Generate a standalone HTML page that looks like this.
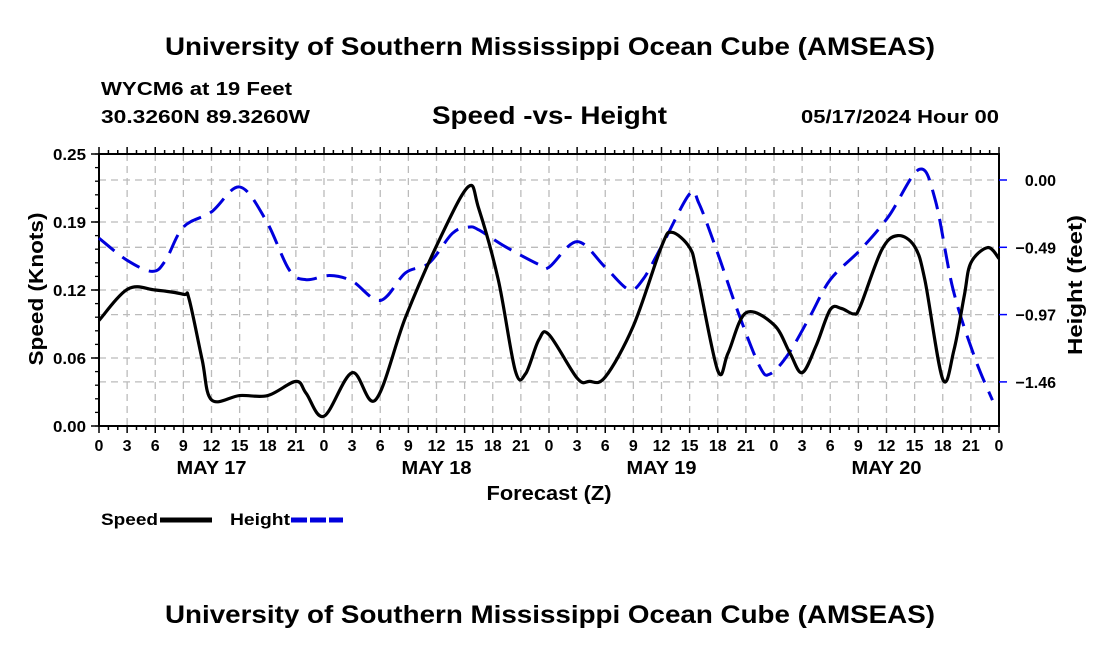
<!DOCTYPE html>
<html><head><meta charset="utf-8"><style>
body{margin:0;background:#fff;}
svg text{font-family:"Liberation Sans",sans-serif;font-weight:bold;fill:#000;}
</style></head><body>
<svg width="1100" height="650" xmlns="http://www.w3.org/2000/svg">
<g id="static"></g>
<g id="grid"></g>
<g id="series"></g>
</svg>
<script>
const speedHours=[0,3.1,6,9,9.6,11,12,15,18,21,22.1,24,27,29.5,32.7,36.3,39.4,40.5,42.6,44.4,45.5,46.9,48,51,52.3,54,57,60,61.1,63,63.8,66,67.1,69,72,73.7,75,76.5,78,79.2,80.5,81.2,83.5,85.2,87,88.1,90,91.2,92.3,93,94.8,96];
const speedVals=[0.097,0.126,0.125,0.121,0.117,0.061,0.024,0.028,0.028,0.041,0.03,0.009,0.049,0.024,0.10,0.171,0.22,0.20,0.134,0.051,0.048,0.079,0.084,0.044,0.041,0.045,0.092,0.165,0.178,0.164,0.14,0.051,0.067,0.104,0.093,0.067,0.049,0.074,0.107,0.108,0.103,0.11,0.162,0.175,0.165,0.134,0.043,0.07,0.12,0.15,0.164,0.154];
const heightHours=[0,3,5.7,7.1,9,12,15,17.8,20.3,22.1,24.6,27,30,32.7,35.2,37.7,39.4,40.5,43.3,46.9,48,51,54,56.5,58,60,63,64,66,68.2,70.5,71.6,73.5,75.8,78,81.2,84.2,87.5,89.2,91.1,93.4,95.3];
const heightVals=[-0.42,-0.58,-0.66,-0.58,-0.34,-0.23,-0.05,-0.29,-0.65,-0.72,-0.69,-0.73,-0.87,-0.67,-0.60,-0.385,-0.34,-0.36,-0.48,-0.61,-0.63,-0.445,-0.63,-0.79,-0.72,-0.48,-0.10,-0.17,-0.53,-0.96,-1.35,-1.40,-1.26,-0.99,-0.72,-0.505,-0.265,0.077,-0.144,-0.79,-1.28,-1.59];
const leftTicks=[0,0.0625,0.125,0.1875,0.25];
const leftLabels=["0.00","0.06","0.12","0.19","0.25"];
const rightTicks=[0,-0.486,-0.972,-1.458];
const rightLabels=["0.00","-0.49","-0.97","-1.46"];
const dayLabels=["MAY 17","MAY 18","MAY 19","MAY 20"];

const X0=99,X1=999,Y0=426,Y1=154;
const xs=h=>X0+(X1-X0)*h/96;
const ys=v=>Y0-(Y0-Y1)*v/0.25;
const yh=v=>180-v*67.3/0.486;
const NS="http://www.w3.org/2000/svg";
function mk(tag,attrs,parent,txt){const e=document.createElementNS(NS,tag);for(const k in attrs)e.setAttribute(k,attrs[k]);if(txt!==undefined)e.textContent=txt;parent.appendChild(e);return e;}
const st=document.getElementById('static'),gr=document.getElementById('grid'),se=document.getElementById('series');

let t;
t=mk('text',{x:165,y:55,'font-size':25,textLength:770,lengthAdjust:'spacingAndGlyphs'},st,'University of Southern Mississippi Ocean Cube (AMSEAS)');

t=mk('text',{x:101,y:95,'font-size':18,textLength:191,lengthAdjust:'spacingAndGlyphs'},st,'WYCM6 at 19 Feet');

t=mk('text',{x:101,y:123,'font-size':18,textLength:209,lengthAdjust:'spacingAndGlyphs'},st,'30.3260N  89.3260W');

t=mk('text',{x:432,y:124,'font-size':25,textLength:235,lengthAdjust:'spacingAndGlyphs'},st,'Speed -vs- Height');

t=mk('text',{x:801,y:123,'font-size':18,textLength:198,lengthAdjust:'spacingAndGlyphs'},st,'05/17/2024 Hour 00');

t=mk('text',{x:165,y:623,'font-size':25,textLength:770,lengthAdjust:'spacingAndGlyphs'},st,'University of Southern Mississippi Ocean Cube (AMSEAS)');


for(let h=3;h<96;h+=3){const l=mk('line',{x1:xs(h),x2:xs(h),y1:Y1,y2:Y0,stroke:'#bbb','stroke-width':1.3,'stroke-dasharray':'7,5'},gr);
}
leftTicks.slice(1,4).forEach(v=>{const l=mk('line',{x1:X0,x2:X1,y1:ys(v),y2:ys(v),stroke:'#bbb','stroke-width':1.3,'stroke-dasharray':'7,5'},gr);
});
rightTicks.forEach(v=>{const l=mk('line',{x1:X0,x2:X1,y1:yh(v),y2:yh(v),stroke:'#bbb','stroke-width':1.3,'stroke-dasharray':'7,5'},gr);
});

let fr=mk('rect',{x:X0,y:Y1,width:X1-X0,height:Y0-Y1,fill:'none',stroke:'#000','stroke-width':2},gr);

for(let h=0;h<=96;h++){const len=h%3===0?7:4;
mk('line',{x1:xs(h),x2:xs(h),y1:Y0,y2:Y0+len,stroke:'#000','stroke-width':1.5},gr);
mk('line',{x1:xs(h),x2:xs(h),y1:Y1,y2:Y1-len,stroke:'#000','stroke-width':1.5},gr);
if(h%3===0){const lb=['0','3','6','9','12','15','18','21'][(h/3)%8];
t=mk('text',{x:xs(h),y:451,'text-anchor':'middle','font-size':16},gr,lb);
}}
dayLabels.forEach((d,i)=>{t=mk('text',{x:xs(12+24*i),y:474,'text-anchor':'middle','font-size':18,textLength:70,lengthAdjust:'spacingAndGlyphs'},gr,d);
});
for(let v=0;v<=0.25001;v+=0.0125){mk('line',{x1:X0-4,x2:X0,y1:ys(v),y2:ys(v),stroke:'#000','stroke-width':1.3},gr);}
leftTicks.forEach((v,i)=>{mk('line',{x1:X0-8,x2:X0,y1:ys(v),y2:ys(v),stroke:'#000','stroke-width':1.5},gr);
t=mk('text',{x:86,y:ys(v)+6,'text-anchor':'end','font-size':16,textLength:33,lengthAdjust:'spacingAndGlyphs'},gr,leftLabels[i]);
});
rightTicks.forEach((v,i)=>{mk('line',{x1:X1,x2:X1+8,y1:yh(v),y2:yh(v),stroke:'#00f','stroke-width':1.5},gr);
t=mk('text',{x:1056,y:yh(v)+6,'text-anchor':'end','font-size':16},gr,rightLabels[i].replace('-','\u2212'));
});
t=mk('text',{x:0,y:0,'text-anchor':'middle','font-size':20,textLength:153,lengthAdjust:'spacingAndGlyphs',transform:'translate(43,289) rotate(-90)'},gr,'Speed (Knots)');

t=mk('text',{x:0,y:0,'text-anchor':'middle','font-size':20,textLength:140,lengthAdjust:'spacingAndGlyphs',transform:'translate(1082,285) rotate(-90)'},gr,'Height (feet)');

t=mk('text',{x:549,y:500,'text-anchor':'middle','font-size':20,textLength:125,lengthAdjust:'spacingAndGlyphs'},gr,'Forecast (Z)');


function smooth(pts){let d='M'+pts[0][0]+','+pts[0][1];
for(let i=0;i<pts.length-1;i++){const p0=pts[Math.max(0,i-1)],p1=pts[i],p2=pts[i+1],p3=pts[Math.min(pts.length-1,i+2)];
const c1=[p1[0]+(p2[0]-p0[0])/6,p1[1]+(p2[1]-p0[1])/6],c2=[p2[0]-(p3[0]-p1[0])/6,p2[1]-(p3[1]-p1[1])/6];
d+=' C'+c1.join(',')+' '+c2.join(',')+' '+p2.join(',');}return d;}
let hp=mk('path',{d:smooth(heightHours.map((h,i)=>[xs(h),yh(heightVals[i])])),fill:'none',stroke:'#0000dd','stroke-width':3,'stroke-dasharray':'20,10'},se);

let sp=mk('path',{d:smooth(speedHours.map((h,i)=>[xs(h),ys(speedVals[i])])),fill:'none',stroke:'#000','stroke-width':3.2},se);


t=mk('text',{x:101,y:525,'font-size':17,textLength:57,lengthAdjust:'spacingAndGlyphs'},se,'Speed');

let l=mk('line',{x1:160,x2:212,y1:520,y2:520,stroke:'#000','stroke-width':5},se);

t=mk('text',{x:230,y:525,'font-size':17,textLength:60,lengthAdjust:'spacingAndGlyphs'},se,'Height');

l=mk('line',{x1:291,x2:343,y1:520,y2:520,stroke:'#0000dd','stroke-width':5,'stroke-dasharray':'16,3'},se);

</script>
</body></html>
